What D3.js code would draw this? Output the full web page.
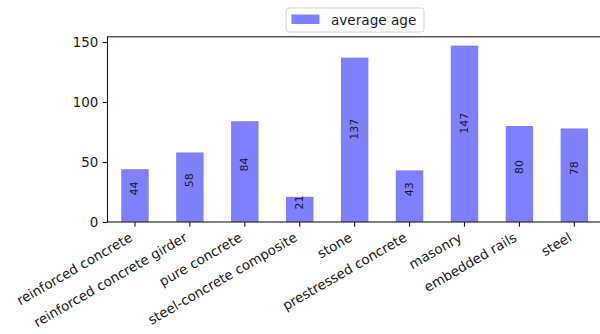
<!DOCTYPE html>
<html>
<head>
<meta charset="utf-8">
<script src="https://cdn.jsdelivr.net/npm/d3@7"></script>
<style>
  html, body { margin: 0; padding: 0; background: #fff; }
  svg { display: block; font-family: "DejaVu Sans", sans-serif; }
</style>
</head>
<body>
<svg id="chart" width="600" height="334"></svg>
<script>
// Bridge materials and their average age
const categories = [
  "reinforced concrete", "reinforced concrete girder", "pure concrete",
  "steel-concrete composite", "stone", "prestressed concrete",
  "masonry", "embedded rails", "steel"
];
const averageAge = [44, 58, 84, 21, 137, 43, 147, 80, 78];
const yTicks = [0, 50, 100, 150];
const seriesName = "average age";

const svg = d3.select("#chart");
const plotLeft = 107.5, plotRight = 601.8, plotTop = 36.8, plotBottom = 222;
const textColor = "#1a1a1a";
const barColor = "rgba(0,0,255,0.5)";

const x = d3.scaleBand()
  .domain(categories)
  .range([plotLeft, plotRight])
  .paddingInner(0.5)
  .paddingOuter(0.25);

const y = d3.scaleLinear()
  .domain([0, d3.max(averageAge) * 1.05])
  .range([plotBottom, plotTop]);

// bars
svg.append("g").selectAll("rect")
  .data(averageAge)
  .join("rect")
  .attr("x", (d, i) => x(categories[i]))
  .attr("y", d => y(d))
  .attr("width", x.bandwidth())
  .attr("height", d => y(0) - y(d))
  .attr("fill", barColor);

// value labels, vertical, starting at half height
svg.append("g").selectAll("text")
  .data(averageAge)
  .join("text")
  .attr("transform", (d, i) =>
    `translate(${x(categories[i]) + x.bandwidth() / 2},${y(d / 2)}) rotate(-90)`)
  .attr("text-anchor", "start")
  .attr("dominant-baseline", "central")
  .attr("font-size", 11)
  .attr("fill", textColor)
  .text(d => d);

// y axis
const yAxis = svg.append("g")
  .attr("transform", `translate(${plotLeft},0)`)
  .call(d3.axisLeft(y).tickValues(yTicks).tickSize(4.7).tickPadding(4.5));
yAxis.select(".domain").remove();
yAxis.selectAll("line").attr("stroke", textColor).attr("stroke-width", 1.1);
yAxis.selectAll("text")
  .attr("font-size", 13.4)
  .attr("font-family", "DejaVu Sans")
  .attr("fill", textColor);

// x axis with slanted labels
const xAxis = svg.append("g")
  .attr("transform", `translate(0,${plotBottom})`)
  .call(d3.axisBottom(x).tickSize(4.7).tickPadding(0));
xAxis.select(".domain").remove();
xAxis.selectAll("line").attr("stroke", textColor).attr("stroke-width", 1.1);
const fs = 13.4, asc = 0.76 * fs, desc = 0.24 * fs;
xAxis.selectAll("text")
  .attr("font-size", fs)
  .attr("font-family", "DejaVu Sans")
  .attr("fill", textColor)
  .attr("text-anchor", "end")
  .attr("dy", null)
  .attr("y", 0)
  .attr("transform", `translate(${-0.5 * desc},${9.4 + 0.866 * asc}) rotate(-30)`);

// frame
svg.append("rect")
  .attr("x", plotLeft).attr("y", plotTop)
  .attr("width", plotRight - plotLeft).attr("height", plotBottom - plotTop)
  .attr("fill", "none")
  .attr("stroke", textColor)
  .attr("stroke-width", 1.1);

// legend above the plot
const legend = svg.append("g");
legend.append("rect")
  .attr("x", 286).attr("y", 8).attr("width", 138).attr("height", 24)
  .attr("rx", 3)
  .attr("fill", "#fff")
  .attr("stroke", "#d4d4d4");
legend.append("rect")
  .attr("x", 291.5).attr("y", 14.5).attr("width", 28).attr("height", 9.5)
  .attr("fill", barColor);
legend.append("text")
  .attr("x", 331).attr("y", 24.5)
  .attr("font-size", 13.6)
  .attr("fill", textColor)
  .text(seriesName);
</script>
</body>
</html>
